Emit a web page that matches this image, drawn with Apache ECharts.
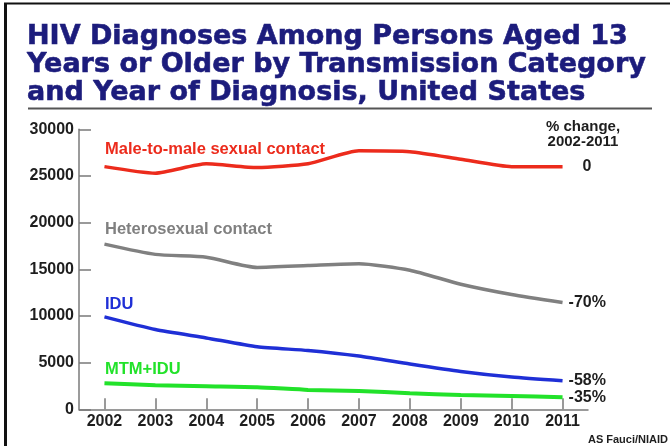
<!DOCTYPE html>
<html>
<head>
<meta charset="utf-8">
<script src="https://cdn.jsdelivr.net/npm/echarts@6/dist/echarts.min.js"></script>
<style>
  html, body { margin: 0; padding: 0; background: #fff; }
</style>
</head>
<body>
<div id="hivChart" style="width:670px;height:446px;"></div>
<script>
// years of diagnosis
var years = ['2002', '2003', '2004', '2005', '2006', '2007', '2008', '2009', '2010', '2011'];
// diagnoses per transmission category
var mtmValues = [26000, 25300, 26300, 25900, 26300, 27700, 27600, 26800, 26000, 26000];
var heteroValues = [17700, 16600, 16300, 15200, 15400, 15600, 14900, 13400, 12300, 11450];
var iduValues = [9900, 8550, 7650, 6700, 6300, 5700, 4850, 4050, 3450, 3050];
var mtmIduValues = [2800, 2570, 2460, 2360, 2080, 1960, 1720, 1530, 1420, 1290];
// % change labels at the right end
var changeLabels = ['0', '-70%', '-58%', '-35%'];
var yTicks = [0, 5000, 10000, 15000, 20000, 25000, 30000];

var myChart = echarts.init(document.getElementById('hivChart'));

var labelFont = 'Liberation Sans, Arial, sans-serif';

function makeLine(name, values, color, width, endText, endDist) {
    return {
        name: name,
        type: 'line',
        data: values,
        symbol: 'none',
        smooth: 0.2,
        lineStyle: { color: color, width: width },
        endLabel: {
            show: true,
            formatter: endText,
            distance: endDist,
            color: '#1e1e1e',
            fontFamily: labelFont,
            fontWeight: 'bold',
            fontSize: 16
        },
        z: 3
    };
}

myChart.setOption({
    animation: false,
    backgroundColor: '#fff',
    title: {
        text: 'HIV Diagnoses Among Persons Aged 13\nYears or Older by Transmission Category\nand Year of Diagnosis, United States',
        left: 27,
        top: 23,
        padding: 0,
        textStyle: {
            color: '#1c1c7c',
            fontFamily: 'DejaVu Sans',
            fontWeight: 'bold',
            fontSize: 27,
            lineHeight: 28,
            textBorderColor: '#1c1c7c',
            textBorderWidth: 0.6
        }
    },
    grid: {
        left: 79,
        right: 82,
        top: 129.3,
        bottom: 36.7
    },
    xAxis: {
        type: 'category',
        data: years,
        boundaryGap: true,
        axisLine: { show: true, lineStyle: { color: '#7a7a7a', width: 1.5 } },
        axisTick: { show: true, inside: true, alignWithLabel: true, length: 11, lineStyle: { color: '#7a7a7a', width: 1.5 } },
        axisLabel: {
            color: '#1e1e1e',
            fontFamily: labelFont,
            fontWeight: 'bold',
            fontSize: 16,
            margin: 4
        },
        splitLine: { show: false }
    },
    yAxis: {
        type: 'value',
        min: yTicks[0],
        max: yTicks[yTicks.length - 1],
        interval: 5000,
        axisLine: { show: true, lineStyle: { color: '#7a7a7a', width: 1.5 } },
        axisTick: { show: true, inside: true, length: 12, lineStyle: { color: '#7a7a7a', width: 1.5 } },
        axisLabel: {
            color: '#1e1e1e',
            fontFamily: labelFont,
            fontWeight: 'bold',
            fontSize: 16,
            margin: 5,
            formatter: function (v) { return String(v); }
        },
        splitLine: { show: false }
    },
    series: [
        makeLine('Male-to-male sexual contact', mtmValues, '#ec2b1c', 3.5, changeLabels[0], 20),
        makeLine('Heterosexual contact', heteroValues, '#808080', 3.5, changeLabels[1], 6),
        makeLine('IDU', iduValues, '#1f2fd6', 3.5, changeLabels[2], 6),
        makeLine('MTM+IDU', mtmIduValues, '#22e22a', 4, changeLabels[3], 6)
    ],
    graphic: [
        // frame
        { type: 'line', shape: { x1: 5.5, y1: 3, x2: 5.5, y2: 446 }, style: { stroke: '#111', lineWidth: 3 } },
        { type: 'line', shape: { x1: 4, y1: 3.5, x2: 670, y2: 3.5 }, style: { stroke: '#111', lineWidth: 2 } },
        // rule under title
        { type: 'line', shape: { x1: 28, y1: 108.5, x2: 652, y2: 108.5 }, style: { stroke: '#555', lineWidth: 2 } },
        // series names
        { type: 'text', left: 105, top: 141, style: { text: 'Male-to-male sexual contact', fill: '#ec2b1c', font: 'bold 16.5px Liberation Sans' } },
        { type: 'text', left: 105, top: 221, style: { text: 'Heterosexual contact', fill: '#808080', font: 'bold 16.5px Liberation Sans' } },
        { type: 'text', left: 105, top: 296, style: { text: 'IDU', fill: '#1f2fd6', font: 'bold 16.5px Liberation Sans' } },
        { type: 'text', left: 105, top: 361, style: { text: 'MTM+IDU', fill: '#22e22a', font: 'bold 16.5px Liberation Sans' } },
        // % change header
        { type: 'text', x: 583, y: 119, style: { text: '% change,\n2002-2011', fill: '#1e1e1e', font: 'bold 15px Liberation Sans', align: 'center', lineHeight: 15 } },
        // source
        { type: 'text', x: 668, y: 434, style: { text: 'AS Fauci/NIAID', fill: '#1e1e1e', font: 'bold 11px Liberation Sans', align: 'right' } }
    ]
});
</script>
</body>
</html>
